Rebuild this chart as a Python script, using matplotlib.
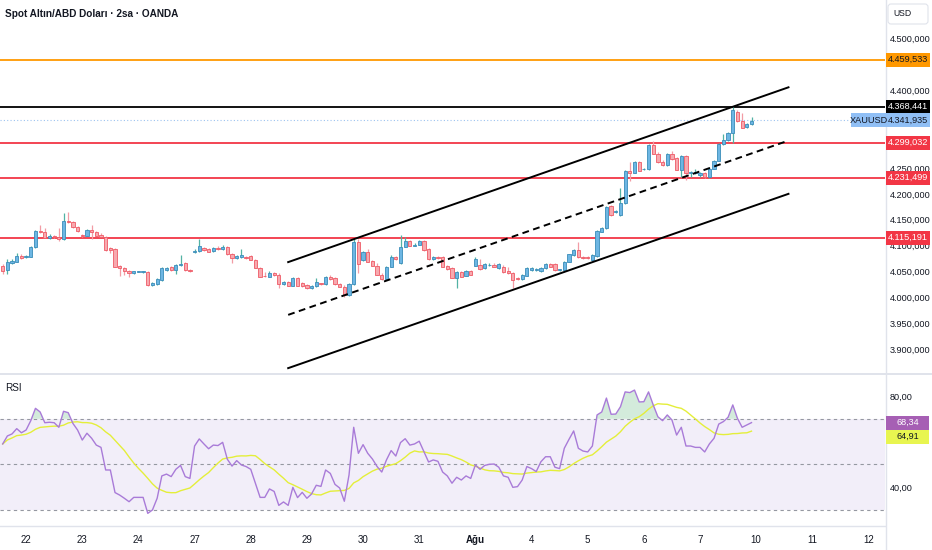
import numpy as np
import pandas as pd
import matplotlib
matplotlib.use("Agg")
import matplotlib.pyplot as plt
from matplotlib.patches import Rectangle, FancyBboxPatch
from matplotlib.lines import Line2D
from matplotlib.transforms import IdentityTransform

# 2h XAUUSD candles
opens = [4060, 4053, 4066, 4069, 4080, 4078, 4078, 4097, 4129, 4126,
         4115, 4118, 4117, 4113, 4147, 4146, 4136, 4120, 4119, 4130,
         4126, 4121, 4117, 4095, 4093, 4060, 4057, 4051, 4046, 4049,
         4049, 4049, 4024, 4026, 4033, 4053, 4059, 4053, 4062, 4066,
         4053, 4088, 4090, 4095, 4093, 4090, 4095, 4093, 4097, 4083,
         4075, 4077, 4077, 4079, 4073, 4057, 4042, 4040, 4046, 4044,
         4025, 4029, 4022, 4037, 4027, 4024, 4017, 4021, 4027, 4025,
         4040, 4037, 4025, 4020, 4004, 4025, 4106, 4072, 4087, 4070,
         4061, 4044, 4035, 4059, 4078, 4066, 4098, 4109, 4100, 4102,
         4109, 4093, 4074, 4078, 4077, 4061, 4056, 4038, 4048, 4042,
         4051, 4061, 4062, 4056, 4062, 4062, 4056, 4059, 4050, 4046,
         4037, 4035, 4042, 4053, 4053, 4050, 4056, 4064, 4064, 4053,
         4053, 4069, 4082, 4091, 4078, 4077, 4073, 4080, 4127, 4133,
         4177, 4165, 4159, 4182, 4245, 4241, 4261, 4248, 4248, 4294,
         4278, 4262, 4256, 4277, 4269, 4247, 4273, 4240, 4241, 4236,
         4240, 4232, 4249, 4264, 4296, 4304, 4317, 4359, 4340, 4329,
         4335]
closes = [4051, 4068, 4070, 4080, 4075, 4080, 4097, 4129, 4126, 4115,
          4118, 4117, 4113, 4147, 4146, 4136, 4128, 4118, 4130, 4126,
          4119, 4117, 4091, 4091, 4059, 4057, 4050, 4046, 4050, 4049,
          4049, 4023, 4028, 4035, 4057, 4057, 4053, 4063, 4064, 4053,
          4051, 4090, 4099, 4091, 4088, 4095, 4094, 4098, 4083, 4075,
          4080, 4082, 4075, 4073, 4057, 4040, 4041, 4046, 4043, 4025,
          4029, 4022, 4037, 4022, 4021, 4017, 4022, 4029, 4025, 4040,
          4035, 4025, 4020, 4004, 4025, 4106, 4064, 4087, 4069, 4061,
          4044, 4035, 4059, 4078, 4074, 4098, 4109, 4100, 4102, 4109,
          4091, 4074, 4078, 4075, 4059, 4054, 4038, 4048, 4040, 4050,
          4044, 4074, 4055, 4064, 4062, 4059, 4064, 4048, 4046, 4033,
          4036, 4043, 4056, 4056, 4053, 4057, 4064, 4059, 4053, 4053,
          4069, 4083, 4091, 4078, 4075, 4075, 4082, 4128, 4133, 4175,
          4159, 4166, 4182, 4245, 4241, 4261, 4245, 4248, 4294, 4278,
          4262, 4256, 4277, 4267, 4247, 4273, 4241, 4243, 4243, 4241,
          4232, 4249, 4264, 4296, 4304, 4317, 4362, 4340, 4328, 4335,
          4341]
highs = [4064, 4074, 4074, 4086, 4084, 4082, 4099, 4130, 4140, 4134,
         4122, 4120, 4134, 4163, 4165, 4147, 4138, 4122, 4132, 4140,
         4128, 4124, 4118, 4097, 4095, 4062, 4059, 4053, 4051, 4050,
         4051, 4051, 4030, 4037, 4059, 4059, 4060, 4064, 4082, 4068,
         4054, 4093, 4113, 4097, 4095, 4097, 4099, 4101, 4099, 4086,
         4082, 4093, 4079, 4082, 4074, 4059, 4049, 4051, 4049, 4047,
         4032, 4032, 4039, 4039, 4030, 4026, 4024, 4037, 4028, 4041,
         4043, 4039, 4028, 4024, 4028, 4112, 4112, 4090, 4093, 4072,
         4066, 4047, 4060, 4082, 4080, 4120, 4117, 4111, 4105, 4111,
         4111, 4095, 4080, 4080, 4080, 4062, 4059, 4051, 4051, 4053,
         4053, 4078, 4074, 4066, 4066, 4066, 4066, 4062, 4059, 4049,
         4039, 4045, 4059, 4059, 4056, 4059, 4066, 4066, 4066, 4055,
         4070, 4084, 4093, 4106, 4080, 4080, 4084, 4130, 4136, 4177,
         4178, 4169, 4211, 4246, 4262, 4264, 4264, 4250, 4296, 4302,
         4281, 4265, 4279, 4283, 4271, 4275, 4275, 4244, 4248, 4242,
         4242, 4252, 4265, 4298, 4316, 4320, 4370, 4362, 4356, 4337,
         4349]
lows = [4045, 4045, 4064, 4068, 4074, 4076, 4078, 4095, 4124, 4114,
        4113, 4115, 4109, 4111, 4144, 4134, 4126, 4117, 4118, 4113,
        4118, 4116, 4089, 4086, 4058, 4041, 4043, 4040, 4045, 4048,
        4047, 4022, 4022, 4024, 4031, 4051, 4051, 4045, 4060, 4051,
        4049, 4086, 4088, 4090, 4088, 4088, 4091, 4091, 4082, 4066,
        4074, 4076, 4074, 4072, 4057, 4039, 4039, 4039, 4041, 4018,
        4024, 4021, 4022, 4022, 4020, 4016, 4016, 4020, 4024, 4024,
        4033, 4024, 4020, 4001, 4002, 4024, 4047, 4070, 4068, 4060,
        4043, 4033, 4033, 4059, 4072, 4064, 4097, 4099, 4099, 4101,
        4090, 4072, 4072, 4074, 4059, 4053, 4037, 4018, 4039, 4041,
        4043, 4060, 4053, 4055, 4060, 4059, 4055, 4047, 4045, 4018,
        4033, 4033, 4041, 4051, 4051, 4049, 4055, 4059, 4051, 4051,
        4051, 4068, 4080, 4076, 4074, 4074, 4072, 4078, 4126, 4132,
        4157, 4163, 4157, 4180, 4224, 4240, 4244, 4246, 4246, 4277,
        4260, 4254, 4254, 4265, 4246, 4233, 4227, 4233, 4238, 4233,
        4231, 4231, 4248, 4264, 4294, 4302, 4298, 4339, 4327, 4327,
        4333]

rsi = [59.0, 62.5, 63.4, 65.7, 63.9, 65.1, 69.2, 74.6, 73.0, 68.3,
       68.5, 68.3, 66.3, 73.3, 72.7, 68.0, 65.1, 60.7, 63.7, 61.5,
       58.5, 57.5, 47.6, 47.6, 37.7, 36.6, 35.2, 33.7, 35.6, 35.6,
       35.6, 28.6, 30.1, 35.2, 45.0, 45.8, 44.7, 47.9, 49.6, 44.7,
       43.9, 58.1, 61.2, 59.0, 56.9, 58.5, 58.3, 59.7, 52.3, 49.3,
       51.7, 49.8, 49.1, 47.9, 41.8, 35.6, 35.6, 39.3, 38.2, 32.1,
       33.6, 32.1, 40.0, 35.5, 37.8, 35.2, 37.1, 40.9, 40.4, 47.6,
       46.1, 41.3, 39.7, 33.9, 45.4, 66.3, 54.9, 58.7, 54.9, 52.4,
       49.1, 46.7, 52.0, 56.1, 53.7, 59.6, 61.3, 58.5, 59.0, 60.2,
       55.6, 51.1, 52.0, 51.4, 46.7, 45.0, 41.8, 44.4, 43.2, 45.0,
       43.9, 49.8, 47.9, 49.6, 50.1, 50.2, 48.8, 45.0, 44.4, 40.0,
       40.3, 43.2, 49.1, 48.2, 46.9, 51.2, 53.4, 53.4, 48.8, 48.2,
       57.1, 61.0, 64.7, 57.1, 55.9, 55.5, 58.1, 71.7, 73.0, 79.1,
       72.0, 72.1, 75.3, 81.8, 81.5, 82.6, 77.4, 77.5, 81.8, 76.1,
       70.9, 69.2, 71.7, 69.5, 62.9, 66.3, 58.1, 58.1, 57.5, 57.5,
       55.5, 59.0, 61.5, 67.7, 68.8, 70.7, 76.1, 70.2, 66.3, 67.3,
       68.34]
rsi_ma_last = 64.91

day_pos = [5, 17, 29, 41, 53, 65, 77, 89, 101, 113, 125, 137, 149, 161, 173, 185]
day_labels = ["22", "23", "24", "27", "28", "29", "30", "31", "Ağu",
              "4", "5", "6", "7", "10", "11", "12"]

levels = [4459.533, 4368.441, 4299.032, 4231.499, 4115.191]
level_colors = ["#FF9800", "#000000", "#F23645", "#F23645", "#F23645"]
last_price = 4341.935

chan_x = [61.0, 167.9]
chan_upper = [4068, 4406]
chan_mid = [3966, 4303]
chan_lower = [3863, 4200]

price_ticks = [4500, 4400, 4250, 4200, 4150, 4100, 4050, 4000, 3950, 3900]
rsi_ticks = [80, 40]

W, H = 932, 550
plt.rcParams["font.family"] = ["Liberation Sans", "DejaVu Sans"]
TXT = "#131722"
GRID = "#E0E3EB"
PIX = IdentityTransform()
FS = 6.6


def tr_num(v, d):
    s = f"{v:,.{d}f}"
    return s.replace(",", "#").replace(".", ",").replace("#", ".")


fig = plt.figure(figsize=(W / 100, H / 100), dpi=100)
fig.patch.set_facecolor("white")


def px_axes(x0, y0, x1, y1):
    return fig.add_axes([x0 / W, 1 - y1 / H, (x1 - x0) / W, (y1 - y0) / H])


ax = px_axes(0, 0, 885, 373)
axr = px_axes(0, 375, 885, 525)

o = np.array(opens, float)
h = np.array(highs, float)
l = np.array(lows, float)
c = np.array(closes, float)
idx = np.arange(len(o))
up = c >= o

# candles
ax.vlines(idx[up], l[up], h[up], color="#52B2A4", lw=0.9, zorder=3)
ax.vlines(idx[~up], l[~up], h[~up], color="#F29CA5", lw=0.9, zorder=3)
bot = np.minimum(o, c)
hgt = np.maximum(np.abs(c - o), 0.9)
ax.bar(idx[up], hgt[up], bottom=bot[up], width=0.7, color="#6DB6E3",
       edgecolor="#3A8DBA", linewidth=0.6, zorder=4)
ax.bar(idx[~up], hgt[~up], bottom=bot[~up], width=0.7, color="#F7A9AF",
       edgecolor="#EF5A66", linewidth=0.6, zorder=4)

# horizontal levels
for lv, col in zip(levels, level_colors):
    ax.axhline(lv, color=col, lw=1.3, zorder=2)
ax.axhline(last_price, color="#9DC3F0", lw=0.8, ls=(0, (1, 2)), zorder=2)

# channel
ax.plot(chan_x, chan_upper, color="black", lw=1.4, zorder=5)
ax.plot(chan_x, chan_lower, color="black", lw=1.4, zorder=5)
ax.plot(chan_x, chan_mid, color="black", lw=1.4, ls=(0, (3.5, 2.3)), zorder=5)

x_lo = -2.7 / 4.68
x_hi = (885 - 2.7) / 4.68
ax.set_xlim(x_lo, x_hi)
ax.set_ylim(3853.6, 4574.8)
ax.set_xticks([])
ax.yaxis.tick_right()
ax.set_yticks(price_ticks)
ax.set_yticklabels([tr_num(v, 3) for v in price_ticks])
ax.tick_params(axis="y", length=0, pad=3.5, labelsize=FS, labelcolor=TXT)
for s in ax.spines.values():
    s.set_visible(False)

# RSI pane
rs = np.array(rsi)
ma = pd.Series(rs).rolling(14, min_periods=1).mean().to_numpy()
axr.axhspan(30, 70, color="#F2EEF9", zorder=0, lw=0)
for v in (70, 50, 30):
    axr.axhline(v, color="#9598A1", lw=0.8, ls=(0, (3, 3)), zorder=1)
axr.fill_between(idx, rs, 70, where=rs > 70, interpolate=True,
                 color="#C8E6D2", alpha=0.8, lw=0, zorder=1)
axr.plot(idx, ma, color="#E4EE3A", lw=1.0, zorder=2)
axr.plot(idx, rs, color="#A97BD8", lw=1.0, zorder=3)
axr.set_xlim(x_lo, x_hi)
axr.set_ylim(23.5, 89.2)
axr.yaxis.tick_right()
axr.set_yticks(rsi_ticks)
axr.set_yticklabels([tr_num(v, 2) for v in rsi_ticks])
axr.tick_params(axis="y", length=0, pad=3.5, labelsize=FS, labelcolor=TXT)
axr.set_xticks(day_pos)
axr.set_xticklabels(day_labels)
axr.tick_params(axis="x", length=0, pad=7, labelsize=7, labelcolor=TXT)
axr.get_xticklabels()[day_labels.index("Ağu")].set_fontweight("bold")
for s in axr.spines.values():
    s.set_visible(False)


def tag(a, yv, text, fc, tc, x0=886, x1=930, hh=14, dy=0):
    py = a.transData.transform((0, yv))[1] + dy
    fig.add_artist(Rectangle((x0, py - hh / 2), x1 - x0, hh, transform=PIX,
                             facecolor=fc, edgecolor="none", zorder=10))
    fig.text((x0 + x1) / 2, py, text, transform=PIX, ha="center", va="center",
             fontsize=FS, color=tc, zorder=11)


tag(ax, levels[0], tr_num(levels[0], 3), level_colors[0], TXT)
tag(ax, levels[1], tr_num(levels[1], 3), "#000000", "white")
tag(ax, last_price, tr_num(last_price, 3), "#90BFF5", TXT)
tag(ax, last_price, "XAUUSD", "#90BFF5", TXT, x0=851, x1=886)
for lv in levels[2:]:
    tag(ax, lv, tr_num(lv, 3), "#F23645", "white")
tag(axr, rs[-1], tr_num(rs[-1], 2), "#A65FB4", "white", x1=929)
tag(axr, rs[-1], tr_num(rsi_ma_last, 2), "#E8F550", TXT, x1=929, dy=-14)

# pane separators
fig.add_artist(Line2D([0, W], [H - 374, H - 374], transform=PIX, color=GRID, lw=1.4))
fig.add_artist(Line2D([0, 885], [H - 525.5, H - 525.5], transform=PIX, color=GRID, lw=1.0))
fig.add_artist(Line2D([885.5, 885.5], [0, H], transform=PIX, color=GRID, lw=1.0))

# header texts
fig.text(5, H - 14, "Spot Altın/ABD Doları · 2sa · OANDA", transform=PIX,
         ha="left", va="center", fontsize=7.2, fontweight="bold", color=TXT)
fig.text(5, H - 388, "RSI", transform=PIX, ha="left", va="center",
         fontsize=7.2, color=TXT)
fig.add_artist(FancyBboxPatch((888, H - 24), 40, 20, transform=PIX,
                              boxstyle="round,pad=0,rounding_size=3",
                              facecolor="white", edgecolor=GRID, lw=0.8))
fig.text(893, H - 14, "USD", transform=PIX, ha="left", va="center",
         fontsize=6.2, color=TXT)

fig.savefig("out.png", dpi=100)
